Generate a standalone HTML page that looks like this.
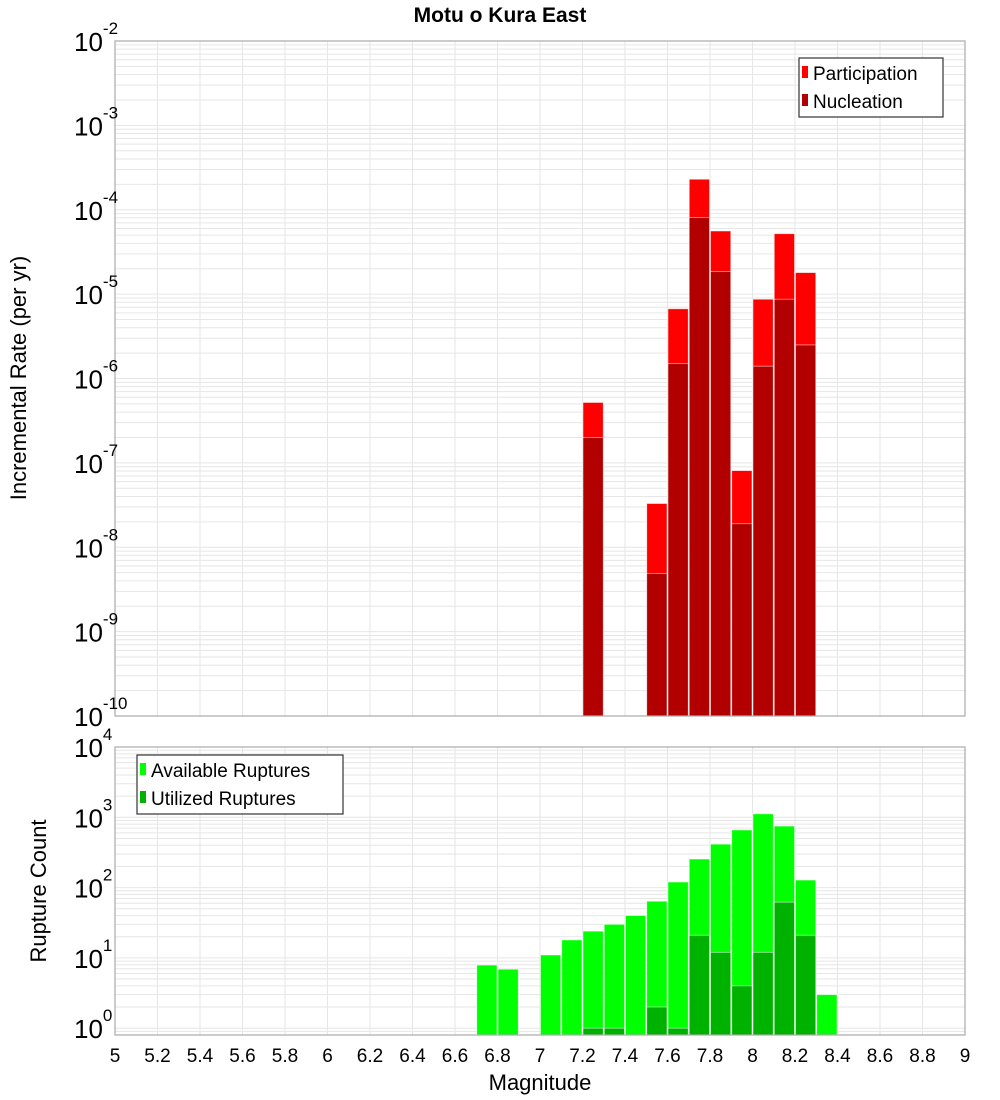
<!DOCTYPE html>
<html><head><meta charset="utf-8"><style>
html,body{margin:0;padding:0;background:#fff;}
svg{display:block;font-family:"Liberation Sans","DejaVu Sans",sans-serif;}
</style></head><body>
<svg id="chart" width="1000" height="1100" xmlns="http://www.w3.org/2000/svg">
<text x="500" y="22" text-anchor="middle" font-size="21" font-weight="bold">Motu o Kura East</text>
<text transform="translate(26,378) rotate(-90)" text-anchor="middle" font-size="22">Incremental Rate (per yr)</text>
<text transform="translate(46,891) rotate(-90)" text-anchor="middle" font-size="22">Rupture Count</text>
<text x="540" y="1090" text-anchor="middle" font-size="22">Magnitude</text>
<g id="gtop"></g><g id="gbot"></g><g id="xt"></g>
</svg>
<script>
const mags = [7.25,7.55,7.65,7.75,7.85,7.95,8.05,8.15,8.25];
const participation = [5.2e-7,3.3e-8,6.7e-6,2.3e-4,5.6e-5,8.1e-8,8.7e-6,5.2e-5,1.8e-5];
const nucleation = [2e-7,4.9e-9,1.5e-6,8.1e-5,1.85e-5,1.9e-8,1.4e-6,8.7e-6,2.5e-6];
const countMags = [6.75,6.85,7.05,7.15,7.25,7.35,7.45,7.55,7.65,7.75,7.85,7.95,8.05,8.15,8.25,8.35];
const available = [7.9,6.9,11,18,24,30,40,64,120,255,415,660,1120,750,128,3];
const utilized = [0,0,0,0,1,1,0,2,1,21,12,4,12,62,21,0];
const xTicks = ["5","5.2","5.4","5.6","5.8","6","6.2","6.4","6.6","6.8","7","7.2","7.4","7.6","7.8","8","8.2","8.4","8.6","8.8","9"];
const topExps = [-2,-3,-4,-5,-6,-7,-8,-9,-10];
const botExps = [4,3,2,1,0];

const NS="http://www.w3.org/2000/svg";
const L=115,R=965;
const xS=m=>L+(m-5)*(R-L)/4;
const T1=41,B1=716, yTop=v=>T1+(-2-Math.log10(v))*(B1-T1)/8;
const T2=747,B2=1035, lmin=Math.log10(0.8), yBot=v=>T2+(4-Math.log10(v))*(B2-T2)/(4-lmin);
function mk(p,tag,a){const e=document.createElementNS(NS,tag);for(const k in a)e.setAttribute(k,a[k]);p.appendChild(e);return e;}
const gTop=document.getElementById('gtop'),gBot=document.getElementById('gbot'),xt=document.getElementById('xt');

function grid(g,T,B,yf,lo,hi){
  for(let d=lo;d<hi;d++)for(let k=1;k<10;k++){const v=k*Math.pow(10,d);const yy=yf(v);if(yy<T||yy>B)continue;
    const ln=mk(g,'line',{x1:L,x2:R,y1:yy,y2:yy,stroke:'#e6e6e6','stroke-width':1});
    
    }
  for(let i=1;i<20;i++){const xx=xS(5+i*0.2);
    const ln=mk(g,'line',{x1:xx,x2:xx,y1:T,y2:B,stroke:'#e6e6e6','stroke-width':1});
    
    }
}
grid(gTop,T1,B1,yTop,-10,-1);
grid(gBot,T2,B2,yBot,-1,4);

const w=(R-L)/40;
function bar(g,m,v,yf,B,fill,name){const yy=yf(v);
  const r=mk(g,'rect',{x:xS(m)-w/2+0.5,y:yy,width:w-1,height:B-yy,fill:fill,stroke:'#fff','stroke-opacity':0.6,'stroke-width':0.8});
  
  }
mags.forEach((m,i)=>{bar(gTop,m,participation[i],yTop,B1,'#ff0000','participation-bar');});
mags.forEach((m,i)=>{bar(gTop,m,nucleation[i],yTop,B1,'#b20000','nucleation-bar');});
countMags.forEach((m,i)=>{if(available[i]>0)bar(gBot,m,available[i],yBot,B2,'#00ff00','available-bar');});
countMags.forEach((m,i)=>{if(utilized[i]>0)bar(gBot,m,utilized[i],yBot,B2,'#00b200','utilized-bar');});

mk(gTop,'rect',{x:L,y:T1,width:R-L,height:B1-T1,fill:'none',stroke:'#aaa','stroke-width':1.2});
mk(gBot,'rect',{x:L,y:T2,width:R-L,height:B2-T2,fill:'none',stroke:'#aaa','stroke-width':1.2});

function ylab(g,yy,e){const t=mk(g,'text',{x:74,y:yy+10,'font-size':26});
  
  
  t.textContent='10';const s=mk(t,'tspan',{dy:-17,'font-size':17});s.textContent=String(e);}
topExps.forEach(e=>ylab(gTop,yTop(Math.pow(10,e)),e));
botExps.forEach(e=>ylab(gBot,yBot(Math.pow(10,e)),e));

xTicks.forEach(s=>{const t=mk(xt,'text',{x:xS(parseFloat(s)),y:1062,'text-anchor':'middle','font-size':19});
  
  
  t.textContent=s;});

function legend(g,bx,by,bw,items){
  const r=mk(g,'rect',{x:bx,y:by,width:bw,height:59,fill:'#fff',stroke:'#333','stroke-width':1.2});
  
  
  items.forEach((it,i)=>{const yy=by+22+i*28;
    const sw=mk(g,'rect',{x:bx+3,y:yy-14,width:6,height:12,fill:it[1]});
    
    
    const t=mk(g,'text',{x:bx+14,y:yy,'font-size':19});
    
    
    t.textContent=it[0];});
}
legend(gTop,799,58,144,[["Participation","#ff0000"],["Nucleation","#b20000"]]);
legend(gBot,137,755,206,[["Available Ruptures","#00ff00"],["Utilized Ruptures","#00b200"]]);
</script>
</body></html>
